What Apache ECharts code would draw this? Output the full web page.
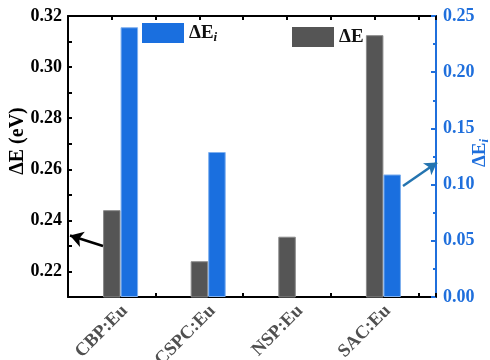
<!DOCTYPE html>
<html>
<head>
<meta charset="utf-8">
<script src="https://cdn.jsdelivr.net/npm/echarts@6/dist/echarts.min.js"></script>
<style>
  html, body { margin: 0; padding: 0; background: #fff; }
  #chart { width: 490px; height: 360px; }
</style>
</head>
<body>
<div id="chart"></div>
<script>
// Energy gaps per phosphor host
const categories = ['CBP:Eu', 'CSPC:Eu', 'NSP:Eu', 'SAC:Eu'];
const categoryPos = [1, 2, 3, 4];
const deltaE = [0.244, 0.224, 0.2336, 0.3125];    // ΔE (eV), left axis
const deltaEi = [0.240, 0.129, null, 0.109];      // ΔE_i, right axis
const leftTicks = [0.22, 0.24, 0.26, 0.28, 0.30, 0.32];
const rightTicks = [0.00, 0.05, 0.10, 0.15, 0.20, 0.25];

const GRAY = '#555555';
const BLUE = '#1a6fdf';
const AXIS_BLUE = '#1f6fdc';
const ARROW_BLUE = '#2474b0';
const FONT = '"Liberation Serif", "Times New Roman", serif';

const chart = echarts.init(document.getElementById('chart'), null, { renderer: 'canvas' });

const xRange = { min: 0.5, max: 4.7 };

chart.setOption({
  animation: false,
  grid: {
    left: 68, right: 54, top: 16, bottom: 63, containLabel: false, outerBoundsMode: 'none'
  },
  legend: [
    {
      data: ['ΔEi'], left: 137, top: 18, icon: 'rect',
      itemWidth: 42, itemHeight: 20, itemGap: 0,
      itemStyle: { borderWidth: 0 },
      formatter: () => '{a|ΔE}{b|i}',
      textStyle: {
        rich: {
          a: { fontFamily: FONT, fontWeight: 'bold', fontSize: 19, color: '#111' },
          b: { fontFamily: FONT, fontWeight: 'bold', fontStyle: 'italic', fontSize: 13, color: '#111', verticalAlign: 'bottom', padding: [10, 0, 0, 0] }
        }
      }
    },
    {
      data: ['ΔE'], left: 287, top: 22, icon: 'rect',
      itemWidth: 42, itemHeight: 20, itemGap: 0,
      itemStyle: { borderWidth: 0 },
      textStyle: { fontFamily: FONT, fontWeight: 'bold', fontSize: 19, color: '#111' }
    }
  ],
  xAxis: [
    { // bottom frame, ΔE bars
      type: 'value', position: 'bottom', min: xRange.min, max: xRange.max, interval: 0.5,
      axisLine: { show: true, onZero: false, lineStyle: { color: '#000', width: 2 } },
      axisTick: { show: true, inside: true, length: 4, lineStyle: { color: '#000', width: 2 } },
      axisLabel: { show: false }, splitLine: { show: false }
    },
    { // ΔE_i bars sit just right of each category
      type: 'value', position: 'bottom', min: xRange.min - 0.2, max: xRange.max - 0.2, show: false
    },
    { // category names
      type: 'value', position: 'bottom', min: xRange.min - 0.15, max: xRange.max - 0.15, interval: 0.05,
      axisLine: { show: false }, axisTick: { show: false }, splitLine: { show: false },
      axisLabel: {
        show: true, rotate: 45, margin: 11,
        fontFamily: FONT, fontWeight: 'bold', fontSize: 18.5, color: '#505050',
        formatter: (v) => {
          const r = Math.round(v);
          if (Math.abs(v - r) > 1e-6) return '';
          const i = categoryPos.indexOf(r);
          return i >= 0 ? categories[i] : '';
        }
      }
    },
    { // top frame
      type: 'value', position: 'top', min: xRange.min, max: xRange.max, interval: 0.5,
      axisLine: { show: true, onZero: false, lineStyle: { color: '#000', width: 2 } },
      axisTick: { show: true, inside: true, length: 4, lineStyle: { color: '#000', width: 2 } },
      axisLabel: { show: false }, splitLine: { show: false }
    }
  ],
  yAxis: [
    {
      type: 'value', position: 'left', min: 0.21, max: 0.32, interval: 0.01,
      axisLine: { show: true, onZero: false, lineStyle: { color: '#000', width: 2 } },
      axisTick: { show: true, inside: true, length: 4, lineStyle: { color: '#000', width: 2 } },
      splitLine: { show: false },
      axisLabel: {
        margin: 6, fontFamily: FONT, fontWeight: 'bold', fontSize: 18, color: '#000',
        formatter: (v) => {
          const hit = leftTicks.find(t => Math.abs(t - v) < 1e-6);
          return hit !== undefined ? hit.toFixed(2) : '';
        }
      }
    },
    {
      type: 'value', position: 'right', min: 0, max: 0.25, interval: 0.05,
      axisLine: { show: true, onZero: false, lineStyle: { color: AXIS_BLUE, width: 2 } },
      axisTick: { show: true, inside: true, length: 5, lineStyle: { color: AXIS_BLUE, width: 2 } },
      minorTick: { show: true, splitNumber: 2, length: 3, lineStyle: { color: AXIS_BLUE, width: 2 } },
      splitLine: { show: false },
      axisLabel: {
        margin: 7, fontFamily: FONT, fontWeight: 'bold', fontSize: 18, color: AXIS_BLUE,
        formatter: (v) => {
          const hit = rightTicks.find(t => Math.abs(t - v) < 1e-6);
          return hit !== undefined ? hit.toFixed(2) : '';
        }
      }
    }
  ],
  series: [
    {
      name: 'ΔE', type: 'bar', xAxisIndex: 0, yAxisIndex: 0, barWidth: 17.5,
      data: categoryPos.map((x, i) => [x, deltaE[i]]),
      itemStyle: { color: GRAY, borderColor: '#8a8a8a', borderWidth: 1 },
      z: 3,
      markLine: {
        silent: true, animation: false,
        symbol: ['none', 'arrow'], symbolSize: [12, 13],
        label: { show: false },
        lineStyle: { color: '#000', width: 2.5, type: 'solid' },
        data: [[{ x: 103, y: 246 }, { x: 70, y: 235.5 }]]
      }
    },
    {
      name: 'ΔEi', type: 'bar', xAxisIndex: 1, yAxisIndex: 1, barWidth: 17.5,
      data: categoryPos.map((x, i) => [x, deltaEi[i]]),
      itemStyle: { color: BLUE, borderColor: '#7fb0ef', borderWidth: 1 },
      z: 3,
      markLine: {
        silent: true, animation: false,
        symbol: ['none', 'arrow'], symbolSize: [11, 12],
        label: { show: false },
        lineStyle: { color: ARROW_BLUE, width: 2.5, type: 'solid' },
        data: [[{ x: 403, y: 186 }, { x: 437, y: 162.5 }]]
      }
    }
  ],
  graphic: [
    {
      type: 'text', x: 18, y: 141, rotation: Math.PI / 2,
      style: {
        text: 'ΔE (eV)', fill: '#000', align: 'center', verticalAlign: 'middle',
        font: 'bold 20px ' + FONT
      }
    },
    {
      type: 'text', x: 480, y: 153, rotation: Math.PI / 2,
      style: {
        text: '{a|ΔE}{b|i}', align: 'center', verticalAlign: 'middle',
        rich: {
          a: { fontFamily: FONT, fontWeight: 'bold', fontSize: 19, fill: AXIS_BLUE },
          b: { fontFamily: FONT, fontWeight: 'bold', fontStyle: 'italic', fontSize: 13, fill: AXIS_BLUE, verticalAlign: 'bottom', padding: [10, 0, 0, 0] }
        }
      }
    }
  ]
});
</script>
</body>
</html>
